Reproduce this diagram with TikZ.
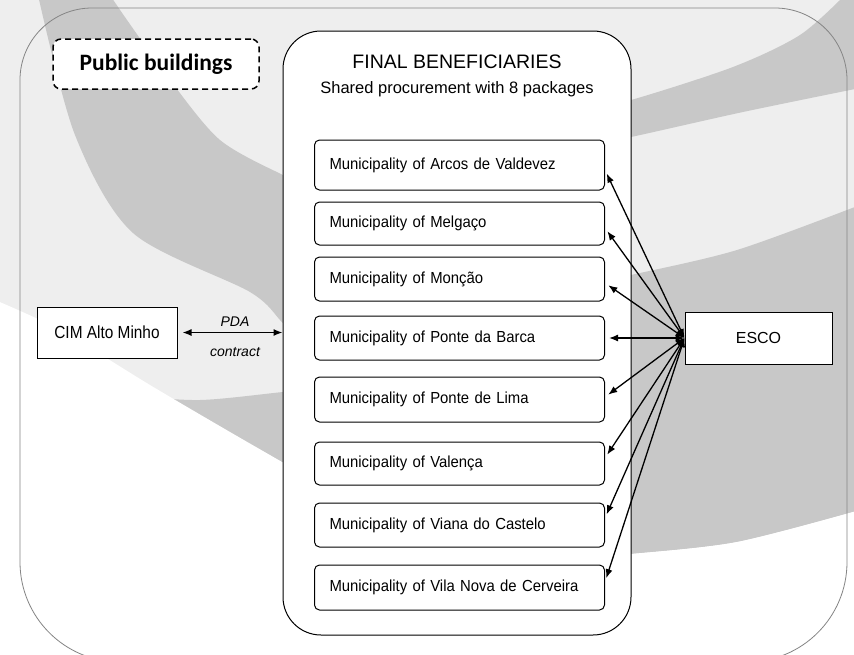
\documentclass[tikz,border=0pt]{standalone}
\usepackage{fontspec}
\setmainfont{Liberation Sans}
\newfontfamily\calibrifont{Carlito}
\newfontfamily\munifont[FakeStretch=0.93]{Liberation Sans}
\newfontfamily\cimfont[FakeStretch=0.88]{Liberation Sans}
\usetikzlibrary{arrows.meta}
\definecolor{bglight}{HTML}{EEEEEE}
\definecolor{bgdark}{HTML}{C8C8C8}
\definecolor{framegray}{HTML}{858585}
\begin{document}
\begin{tikzpicture}[x=1pt,y=-1pt,
  muni/.style={draw=black, line width=1pt, rounded corners=5pt, fill=white,
    minimum width=290pt, text width=260pt, inner xsep=15pt, inner ysep=2pt,
    align=left, anchor=west, font=\munifont\fontsize{16}{19}\selectfont},
  plainbox/.style={draw=black, line width=1pt, fill=white, inner sep=2pt},
  conn/.style={line width=1.3pt, {Latex[length=9pt,width=7pt]}-{Latex[length=9pt,width=7pt]}},
  lbl/.style={font=\itshape\fontsize{14}{16}\selectfont, inner sep=1pt}
]
\useasboundingbox (0,0) rectangle (854,654);
\begin{scope}
\clip (0,0) rectangle (854,654);
% background watermark
\fill[bglight] (0,0) rectangle (854,654);
\fill[bgdark] plot[smooth] coordinates {(38,-5) (75,135) (133,233) (250,292) (283,323) (310,345)}
  -- plot[smooth] coordinates {(310,185) (283,175) (220,140) (170,80) (127,20) (110,-5)} -- cycle;
\fill[bgdark] plot[smooth] coordinates {(80,385) (130,395) (200,400) (283,392) (310,390)}
  -- (310,520) -- (80,520) -- cycle;
\fill[white] plot[smooth] coordinates {(-5,300) (60,330) (150,385) (230,432) (310,478)}
  -- (600,556) -- (600,660) -- (-5,660) -- cycle;
\fill[bgdark] plot[smooth] coordinates {(600,104) (631,100) (733,67) (800,35) (845,-5)}
  -- (860,-5) -- plot[smooth] coordinates {(860,88) (743,112) (631,137) (600,142)} -- cycle;
\fill[bgdark] plot[smooth] coordinates {(600,282) (631,275) (737,250) (860,205)}
  -- plot[smooth] coordinates {(860,510) (737,542) (631,554) (600,556)} -- cycle;
\fill[white] plot[smooth] coordinates {(600,556) (631,554) (737,542) (860,510)}
  -- (860,660) -- (600,660) -- cycle;
% outer frame
\draw[framegray, line width=0.8pt] (20,400) [rounded corners=72pt] -- (20,8) -- (847,8) -- (847,400)
  [rounded corners=100pt] -- (847,662) -- (20,662) -- cycle;
\end{scope}

% big container
\node[draw=black, line width=1pt, fill=white, rounded corners=38pt,
  minimum width=348pt, minimum height=604pt] (fb) at (457,333) {};
\node[font=\fontsize{19.5}{22}\selectfont] (title) at (457,62) {FINAL BENEFICIARIES};
\node[font=\fontsize{16.5}{20}\selectfont] (sub) at (457,89) {Shared procurement with 8 packages};

% public buildings label
\node[draw=black, line width=1.5pt, dash pattern=on 6pt off 4pt, rounded corners=8pt, fill=white,
  minimum width=206pt, minimum height=50pt,
  font=\calibrifont\bfseries\fontsize{23.5}{28}\selectfont] (pb) at (156,64) {Public buildings};

% municipalities
\node[muni, minimum height=50pt] (b1) at (314,165) {Municipality of Arcos de Valdevez};
\node[muni, minimum height=43pt] (b2) at (314,223.5) {Municipality of Melgaço};
\node[muni, minimum height=44pt] (b3) at (314,279) {Municipality of Monção};
\node[muni, minimum height=44pt] (b4) at (314,338) {Municipality of Ponte da Barca};
\node[muni, minimum height=45pt] (b5) at (314,399.5) {Municipality of Ponte de Lima};
\node[muni, minimum height=43pt] (b6) at (314,463.5) {Municipality of Valença};
\node[muni, minimum height=44pt] (b7) at (314,525) {Municipality of Viana do Castelo};
\node[muni, minimum height=45pt] (b8) at (314,587.5) {Municipality of Vila Nova de Cerveira};

% side boxes
\node[plainbox, minimum width=140pt, minimum height=51pt, font=\cimfont\fontsize{17.5}{20}\selectfont] (cim) at (107,332.5) {CIM Alto Minho};
\node[plainbox, minimum width=147pt, minimum height=52pt, font=\fontsize{16}{19}\selectfont] (esco) at (758.5,338) {ESCO};

% PDA contract
\draw[conn, shorten <=5pt] (cim.east) -- (cim.east -| fb.west);
\node[lbl] (pda) at (235,322) {PDA};
\node[lbl] (contract) at (235,352) {contract};

% ESCO connectors
\foreach \i/\s in {1/-5,2/-4.5,3/-4,4/0,5/2.5,6/5.5,7/7,8/5.5}
  \draw[conn, shorten >=4pt] (esco.west) -- ([yshift=\s pt]b\i.east);
\end{tikzpicture}
\end{document}
